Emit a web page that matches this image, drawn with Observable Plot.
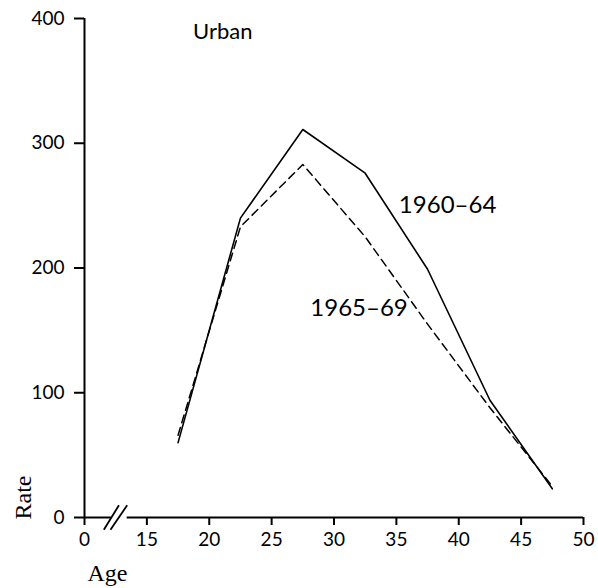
<!DOCTYPE html>
<html><head><meta charset="utf-8">
<script src="https://cdn.jsdelivr.net/npm/d3@7"></script>
<script src="https://cdn.jsdelivr.net/npm/@observablehq/plot@0.6"></script>
<style>body{margin:0;background:#fff}</style>
</head><body><div id="chart"></div>
<script>
// Data
const ages = [17.5, 22.5, 27.5, 32.5, 37.5, 42.5, 47.5];
const rate1960_64 = [60, 240, 311, 276, 199, 94, 23];
const rate1965_69 = [66, 233, 283, 225, 155, 88, 25];
const seriesNames = ["1960–64", "1965–69"];
const xTicks = [10, 15, 20, 25, 30, 35, 40, 45, 50];
const xTickLabels = ["0", "15", "20", "25", "30", "35", "40", "45", "50"];
const yTicks = [0, 100, 200, 300, 400];
const yTickLabels = ["0", "100", "200", "300", "400"];
const panelTitle = "Urban";
const xLabel = "Age";
const yLabel = "Rate";

// annotation anchors (data units)
const seriesLabelX = [35.2, 28.1];
const seriesLabelY = [250, 168];
const titleX = 18.7, titleY = 389;
// axis break
const axisSegments = [[10, 12.15], [13.42, 50]];
const breakSlashes = [[11.55, 12.76], [12.08, 13.42]];
const breakHalf = 9.8;

const rows = [];
ages.forEach((a, i) => {
  rows.push({age: a, rate: rate1960_64[i], series: seriesNames[0]});
  rows.push({age: a, rate: rate1965_69[i], series: seriesNames[1]});
});
const xMap = new Map(xTicks.map((t, i) => [t, xTickLabels[i]]));
const yMap = new Map(yTicks.map((t, i) => [t, yTickLabels[i]]));
const labels = seriesNames.map((s, i) => ({x: seriesLabelX[i], y: seriesLabelY[i], text: s}));

const chart = Plot.plot({
  width: 598,
  height: 588,
  marginLeft: 84,
  marginRight: 15,
  marginTop: 18,
  marginBottom: 71,
  style: {fontFamily: "Lato, sans-serif", color: "black", background: "white"},
  x: {domain: [10, 50], axis: null},
  y: {domain: [0, 400], axis: null},
  marks: [
    // axes lines
    Plot.ruleX([10], {y1: 0, y2: 400, stroke: "black", strokeWidth: 2}),
    Plot.ruleY(axisSegments, {y: () => 0, x1: d => d[0], x2: d => d[1], stroke: "black", strokeWidth: 2}),
    Plot.link(breakSlashes, {x1: d => d[0], x2: d => d[1], y1: -breakHalf, y2: breakHalf, stroke: "black", strokeWidth: 1.8}),
    Plot.axisX({ticks: xTicks, tickFormat: d => xMap.get(d), tickSize: 8, tickPadding: 7, fontSize: 19, strokeWidth: 2, label: null}),
    Plot.axisY({ticks: yTicks, tickFormat: d => yMap.get(d), tickSize: 10, tickPadding: 10, fontSize: 19, strokeWidth: 2, label: null}),
    // lines
    Plot.line(rows.filter(d => d.series === seriesNames[0]), {x: "age", y: "rate", stroke: "black", strokeWidth: 1.6}),
    Plot.line(rows.filter(d => d.series === seriesNames[1]), {x: "age", y: "rate", stroke: "black", strokeWidth: 1.5, strokeDasharray: "8,5"}),
    // labels
    Plot.text(labels, {x: "x", y: "y", text: "text", textAnchor: "start", fontSize: 24, fill: "black"}),
    Plot.text([panelTitle], {x: titleX, y: titleY, text: d => d, textAnchor: "start", fontSize: 22, letterSpacing: "0.5px", fill: "black"}),
    Plot.text([yLabel], {frameAnchor: "bottom-left", dx: -61, dy: -20, rotate: -90, textAnchor: "middle", lineAnchor: "middle", text: d => d, fontSize: 24, fontFamily: "Liberation Serif, serif", fill: "black"}),
    Plot.text([xLabel], {frameAnchor: "bottom-left", dx: 23, dy: 56, textAnchor: "middle", lineAnchor: "middle", text: d => d, fontSize: 24, fontFamily: "Liberation Serif, serif", fill: "black"})
  ]
});
document.getElementById("chart").append(chart);
</script>
</body></html>
